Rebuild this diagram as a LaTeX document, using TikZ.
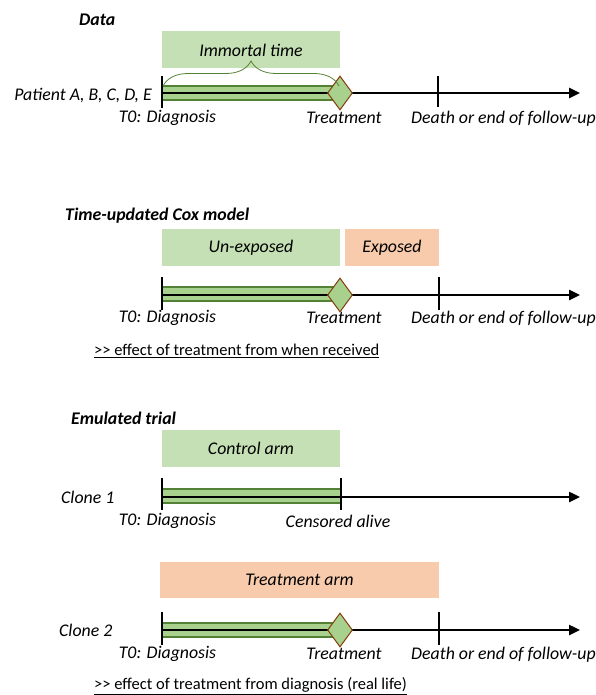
\documentclass[tikz,border=0pt]{standalone}
\usepackage{fontspec}
\setmainfont{Carlito}
\usetikzlibrary{arrows.meta,shapes.geometric,decorations.pathreplacing}
\definecolor{boxgreen}{HTML}{C5E0B4}
\definecolor{boxorange}{HTML}{F8CBAD}
\definecolor{bargreen}{HTML}{A9D18E}
\definecolor{bardark}{HTML}{548235}
\definecolor{diaedge}{HTML}{843C0C}
\tikzset{
  lbl/.style={font=\fontsize{17.8}{20}\selectfont\itshape, inner sep=0pt},
  ttl/.style={font=\fontsize{17.8}{20}\selectfont\bfseries\itshape, inner sep=0pt, anchor=west},
  note/.style={font=\fontsize{16.5}{19}\selectfont, inner sep=0pt, anchor=west},
  gbox/.style={fill=boxgreen, draw=none, inner sep=0pt, font=\fontsize{17.8}{20}\selectfont\itshape},
  obox/.style={fill=boxorange, draw=none, inner sep=0pt, font=\fontsize{17.8}{20}\selectfont\itshape},
  bar/.style={fill=bargreen, draw=bardark, line width=1.2pt},
  axis/.style={line width=2.4pt, -{Triangle[length=11pt,width=10pt]}},
  tick/.style={line width=2.4pt},
  dia/.style={diamond, fill=bargreen, draw=diaedge, line width=1pt, inner sep=0pt, minimum width=25pt, minimum height=34pt, aspect=0.7},
}
\begin{document}
\begin{tikzpicture}[x=1pt,y=-1pt]
\useasboundingbox (0,0) rectangle (596,695);

% ---------- Section 1: Data ----------
\node[ttl] (t1) at (79,20) {Data};
\node[gbox, minimum width=178pt, minimum height=37pt] (imm) at (251,50) {Immortal time};
\coordinate (a0) at (162,93);
\coordinate (aT) at (340,93);
\coordinate (aD) at (438,93);
\coordinate (aE) at (580,93);
\draw[bar] (162,86) rectangle (340,100);
\draw[axis] (a0) -- (aE);
\draw[tick] (162,76) -- (162,108);
\draw[tick] (438,76) -- (438,107);
\node[dia] (ad) at (aT) {};
\draw[bardark, line width=0.8pt, decorate, decoration={brace, amplitude=25pt}] (163,86) -- (339,86);
\node[lbl, anchor=east] (pat) at (152,95) {Patient A, B, C, D, E};
\node[lbl] (a0l) at (167.5,118) {T0: Diagnosis};
\node[lbl] (aTl) at (344,118) {Treatment};
\node[lbl, anchor=west] (aDl) at (411,119) {Death or end of follow-up};

% ---------- Section 2: Time-updated Cox ----------
\node[ttl] (t2) at (65,216) {Time-updated Cox model};
\node[gbox, minimum width=178pt, minimum height=37pt] (unexp) at (251,247.5) {Un-exposed};
\node[obox, minimum width=94pt, minimum height=37pt] (exp) at (392,247.5) {Exposed};
\coordinate (b0) at (162,295);
\coordinate (bT) at (340,295);
\coordinate (bD) at (439,295);
\coordinate (bE) at (580,295);
\draw[bar] (162,287) rectangle (340,301);
\draw[axis] (b0) -- (bE);
\draw[tick] (162,277) -- (162,310);
\draw[tick] (439,277) -- (439,310);
\node[dia] (bd) at (bT) {};
\node[lbl] (b0l) at (167.5,318) {T0: Diagnosis};
\node[lbl] (bTl) at (344,318) {Treatment};
\node[lbl, anchor=west] (bDl) at (411,319) {Death or end of follow-up};
\node[note] (n1) at (94,351) {\underline{>{}> effect of treatment from when received}};

% ---------- Section 3: Emulated trial, clone 1 ----------
\node[ttl] (t3) at (71,418) {Emulated trial};
\node[gbox, minimum width=178pt, minimum height=37pt] (ctrl) at (251,448.5) {Control arm};
\coordinate (c0) at (162,497);
\coordinate (cC) at (341,497);
\coordinate (cE) at (580,497);
\draw[bar] (162,489) rectangle (341,503);
\draw[axis] (c0) -- (cE);
\draw[tick] (162,478) -- (162,510);
\draw[tick] (341,478) -- (341,510);
\node[lbl, anchor=west] (cl1) at (61,497) {Clone 1};
\node[lbl] (c0l) at (167.5,521) {T0: Diagnosis};
\node[lbl] (cCl) at (338,521) {Censored alive};

% ---------- Section 4: clone 2 ----------
\node[obox, minimum width=279pt, minimum height=36pt] (trt) at (299.5,580) {Treatment arm};
\coordinate (d0) at (162,630);
\coordinate (dT) at (340,630);
\coordinate (dD) at (439,630);
\coordinate (dE) at (580,630);
\draw[bar] (162,623) rectangle (340,637);
\draw[axis] (d0) -- (dE);
\draw[tick] (162,612) -- (162,645);
\draw[tick] (439,612) -- (439,645);
\node[dia] (dd) at (dT) {};
\node[lbl, anchor=west] (cl2) at (59,630) {Clone 2};
\node[lbl] (d0l) at (167.5,654) {T0: Diagnosis};
\node[lbl] (dTl) at (344,654) {Treatment};
\node[lbl, anchor=west] (dDl) at (411,655) {Death or end of follow-up};
\node[note] (n2) at (94,686) {\underline{>{}> effect of treatment from diagnosis (real life)}};
\end{tikzpicture}
\end{document}
